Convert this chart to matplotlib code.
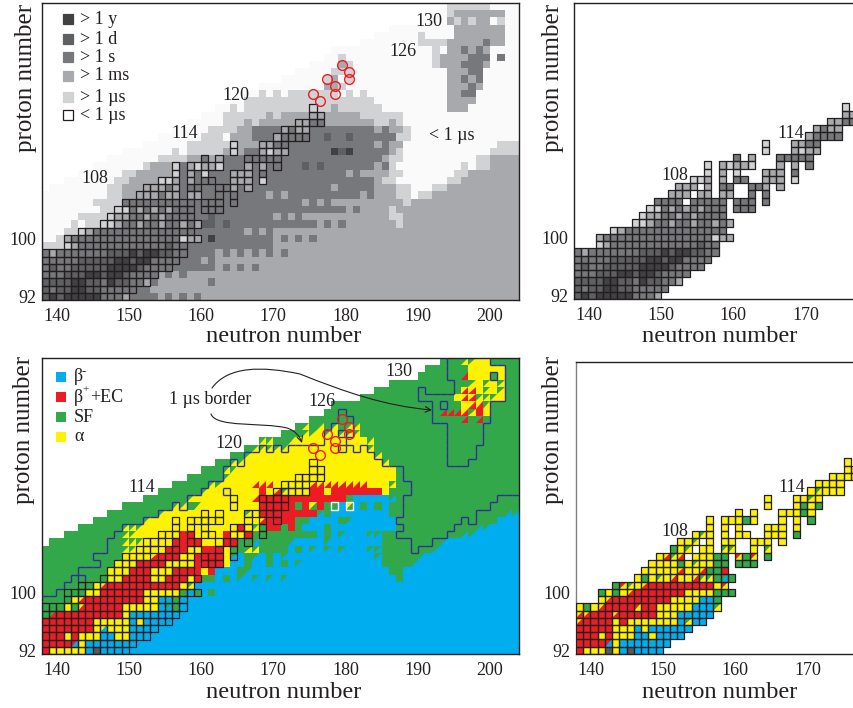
import numpy as np
import matplotlib
matplotlib.use("Agg")
import matplotlib.pyplot as plt
from matplotlib.collections import LineCollection, PatchCollection, PolyCollection
from matplotlib.colors import BoundaryNorm, ListedColormap
from matplotlib.patches import FancyArrowPatch, Rectangle
from matplotlib.path import Path

plt.rcParams['font.family'] = ['Liberation Serif', 'DejaVu Serif']

FIRST_N = 138
FIRST_Z = 92
N_COLS = 66
N_ROWS = 41
W, H = 854, 708
INK = '#231f20'

# first column with any calculated nucleus, for Z = 92 + index (0 = whole row)
row_start = [0] * 15 + [1, 3, 5, 7, 9, 11, 14, 16, 18, 20, 22, 24, 26, 28, 30, 33, 35, 37, 39, 40, 44, 46, 48, 52, 53, 55]

# half-life class runs per row, "column:class", each run lasts until the next one
life_runs = [
    "0:4 16:3 17:4 18:3 19:4 20:3 21:4 22:3",
    "0:4 15:3",
    "0:4 16:3 23:4 24:3",
    "0:4 16:3 17:4 18:3 19:4 20:3",
    "0:4 24:3 25:4 26:3 27:4 28:3 29:4 30:3",
    "0:4 22:3 23:4 24:3",
    "0:4 24:3 25:4 26:3 27:4 28:3 29:4 30:3 31:4 32:3 33:4 34:3",
    "0:2 3:4 32:3",
    "0:1 2:2 3:4 23:6 24:4 32:3 33:4 34:3 35:4 36:3 37:4 38:3",
    "0:1 3:2 5:4 28:3 29:4 30:3 31:4 32:3",
    "0:1 4:2 5:1 6:2 8:4 22:5 24:4 25:5 26:4 38:3 39:4 40:3 41:4 42:3 49:2 50:3",
    "0:1 5:2 9:4 23:5 24:4 32:3 33:4 34:3 35:4 36:3 48:2 50:3",
    "0:1 8:2 10:4 42:3 43:4 44:3 48:2 49:3",
    "0:1 7:2 11:4 36:3 37:4 38:3 39:4 40:3 50:2 51:3",
    "0:1 9:2 11:3 13:4 31:3 32:4 33:3 34:4 44:3 45:4 46:3 49:2 51:1 52:2 54:3",
    "0:1 9:2 11:3 14:4 40:3 41:4 46:3 49:2 51:1 54:2 56:3",
    "0:1 10:2 12:3 16:4 46:3 47:2 49:1 56:2 58:3",
    "0:1 11:2 13:3 18:4 42:3 43:4 44:3 48:2 50:1 57:2 59:3",
    "0:1 14:2 15:3 18:4 36:5 37:4 38:5 39:4 46:3 47:4 48:2 49:1 58:2 59:1 60:2 62:3",
    "0:1 16:2 20:3 24:4 47:3 48:2 50:1 60:2 62:3",
    "0:1 18:2 19:1 20:2 25:3 28:4 40:6 41:5 42:6 43:4 48:3 49:2 50:1 62:2",
    "0:1 20:2 26:3 30:4 46:3 47:4 48:3 50:1 63:2",
    "0:1 22:2 25:1 26:3 29:4 39:5 40:4 42:5 43:4 49:2 51:1",
    "0:1 23:2 27:3 29:4 46:3 47:4 48:3 50:2 51:1",
    "0:1 25:2 28:3 29:2 30:3 46:2 48:3 49:2 50:1",
    "0:1 25:2 31:3 32:2 33:3 44:2 50:1",
    "0:1 26:2 27:1 28:2 40:3 41:2 47:1 56:3 59:1",
    "0:1 28:2 46:1 56:3 60:1",
    "0:1 30:2 31:1 32:2 33:1 34:2 41:1 42:2 43:1 44:2 45:1 56:3 58:4 60:1",
    "0:1 39:3 41:2 42:1 56:3 59:4 60:3 61:1",
    "0:1 39:2 40:3 41:1 42:2 43:1 56:3 58:4 59:3 60:4 61:1",
    "0:1 40:2 43:1 56:3 59:4 61:1",
    "0:1 41:3 42:2 43:1 54:2 55:3 58:4 61:3 62:1",
    "0:1 41:2 42:1 54:2 55:3 59:4 62:1 63:4 64:1",
    "0:1 54:2 55:1 56:3 58:4 59:3 60:4 61:3 62:1",
    "0:1 52:2 56:3 61:4 62:3 64:1",
    "0:1 52:2 53:1 57:3 64:1",
    "0:1 57:3 64:1",
    "0:1 56:3 57:2 58:3 59:2 60:3 62:1 63:2 64:1",
    "0:1 56:2 57:3 64:1",
    "0:1 56:2 62:1",
]

# decay mode runs per row. capitals are one mode, small letters a cell split in two
decay_runs = [
    "0:R 1:Y 6:B 7:K 8:B",
    "0:R 4:h 5:Y 6:B",
    "0:R 3:Y 4:R 5:Y 8:B 10:Y 12:B",
    "0:R 7:Y 8:i 9:Y 12:B",
    "0:R 7:Y 12:B 13:Y 14:B",
    "0:G 1:l 2:R 11:Y 12:B",
    "0:G 3:Y 4:G 5:b 6:R 11:Y 16:B 17:c 18:G 19:B",
    "0:G 4:Y 5:b 6:R 14:Y 16:B 18:G 19:B",
    "0:G 6:Y 8:R 14:Y 19:G 20:B 21:G 22:B 23:G 24:B",
    "0:G 7:Y 8:b 9:R 19:Y 20:a 21:B",
    "0:G 9:Y 11:R 15:Y 17:R 20:Y 21:R 22:G 24:B 25:G 26:B 27:c 28:B 29:c 30:B 31:c 32:B 33:c 34:B 49:G 50:B",
    "0:G 9:Y 12:R 15:Y 18:R 22:Y 23:R 24:B 27:G 28:c 29:B 48:G 50:B",
    "0:G 10:Y 13:R 17:Y 21:R 25:Y 26:B 28:G 29:B 31:G 32:B 33:G 34:B 35:c 36:B 47:G 51:c 52:B",
    "0:G 11:Y 15:b 16:R 19:Y 21:R 25:Y 26:c 27:B 28:G 29:c 30:B 31:G 32:B 33:c 34:B 46:c 47:G 52:c 53:B",
    "0:G 11:a 13:Y 17:R 20:Y 22:R 25:Y 26:G 28:a 30:G 34:B 35:G 36:B 37:c 38:B 39:c 40:B 41:c 42:B 45:c 47:G 54:c 55:B",
    "0:G 11:a 14:Y 18:R 22:Y 25:R 27:G 29:c 30:G 34:c 35:B 39:c 40:B 47:G 55:c 56:B",
    "0:G 11:a 13:Y 19:R 21:Y 25:R 26:Y 28:R 29:G 38:B 39:G 40:B 41:c 42:B 45:c 47:G 58:c 60:B",
    "0:G 11:a 14:Y 27:R 28:Y 29:a 30:G 31:R 33:G 34:R 35:G 36:B 39:G 40:B 49:G 60:c 62:B",
    "0:G 14:a 15:Y 30:b 31:R 35:G 37:B 41:G 42:c 43:B 49:G 63:B",
    "0:G 16:a 17:Y 28:a 29:Y 30:R 38:c 39:G 40:B 48:G 64:c",
    "0:G 18:a 20:G 21:a 22:Y 30:R 35:G 36:R 37:k 38:R 39:G 41:B 42:k 43:B 44:G 45:B 46:G 47:B 48:G",
    "0:G 20:a 21:Y 29:b 30:R 42:G 43:B 48:c 49:G",
    "0:G 22:a 23:Y 30:R 31:Y 32:b 33:a 34:Y 37:R 39:Y 40:R 47:Y 48:G",
    "0:G 23:a 25:Y 29:b 32:Y 37:b 45:Y 48:a 49:G",
    "0:G 25:a 26:Y 49:G",
    "0:G 25:a 27:Y 49:G",
    "0:G 26:a 28:Y 47:a 48:G",
    "0:G 28:a 29:Y 46:a 47:G",
    "0:G 29:a 34:Y 45:a 46:G",
    "0:G 30:a 32:G 34:a 35:Y 45:a 46:G",
    "0:G 36:a 38:Y 39:a 40:Y 41:a 44:G",
    "0:G 36:a 37:G 38:a 39:G 40:a 41:G 42:a 44:G",
    "0:G 58:s 59:G 60:s 61:G",
    "0:G 55:s 58:b 59:a 60:R 61:Y 62:G",
    "0:G 58:Y 59:b 61:a 62:G",
    "0:G 57:Y 58:b 60:a 63:Y 64:G",
    "0:G 58:b 60:Y 61:a 62:Y 63:a 64:G",
    "0:G 59:a 60:Y 61:a 62:Y 63:a 64:G",
    "0:G 58:s 59:Y 62:G 63:Y 64:G",
    "0:G 59:Y 64:G",
    "0:G 58:a 60:Y 62:G",
]

# nuclei of the table: row index, first column, one character per cell
table_row = [0, 1, 2, 3, 4, 5, 6, 7, 8, 9, 10, 11, 12, 12, 13, 13, 13, 13,
             14, 14, 14, 14, 14, 15, 15, 15, 15, 15, 15, 16, 16, 16, 16, 16,
             17, 17, 17, 17, 17, 18, 18, 18, 18, 18, 19, 19, 19, 20, 20, 21, 21,
             22, 23, 24, 25, 26]
table_col = [0, 0, 0, 0, 0, 0, 0, 3, 3, 5, 8, 9, 10, 22, 11, 16, 22, 26,
             13, 17, 20, 24, 26, 14, 18, 20, 24, 26, 28, 16, 20, 22, 26, 30,
             18, 20, 22, 26, 30, 18, 20, 28, 30, 32, 22, 24, 28, 26, 30, 26, 30,
             32, 33, 35, 37, 37]
table_life = ["565666664443", "5455665544444", "555566554655443", "4445556656654444",
              "454455555666654444", "4444455555665664444", "43444444455565665544",
              "23444444444444544", "3444444444444444233", "2344444444444444",
              "22344344344343", "233443434444", "22434343444", "444",
              "4444", "44444", "444", "4",
              "333", "33", "33", "4", "4", "333", "3", "44", "44", "3", "3",
              "223", "3", "44", "333", "2",
              "2", "3", "2", "333", "4", "2", "32332", "3", "3", "4",
              "4", "3", "44444", "2", "3233", "2", "3344",
              "34444", "3433", "3344", "33", "2"]
table_decay = ["RYYYKYBKBBBB", "RRRRhYBBBBBBB", "RRRYRYYYBBYBBBB", "RRRRRYYYBYBBBBBB",
               "bRRRRYRYYYYYYYBaBB", "bbRRRbRRRRRYYYBBBBB", "YGYbRRRRjRRYYYYYBBBa",
               "YbRRRRRRRRYYYYBBG", "GYGYbRRRRRRRYYYYGGG", "GjaYbRRRRRRRRRYj",
               "YGYaYbYYbaaGcG", "YYYYYbYYbGGR", "YYYYGYaYYGG", "GGG",
               "Ybab", "YYYGG", "jGj", "G",
               "GYa", "YY", "aa", "Y", "a", "YYa", "Y", "YY", "YY", "Y", "Y",
               "YaY", "Y", "YY", "YYY", "G",
               "Y", "Y", "Y", "YYY", "Y", "Y", "YYYGY", "Y", "Y", "G",
               "Y", "Y", "YYYGY", "Y", "YGYG", "Y", "YYaY",
               "YaYYY", "YYYY", "YYYY", "YY", "Y"]

# recent superheavy nuclei marked with circles
circle_n = [179, 180, 180, 177, 178, 178, 175, 176]
circle_z = [124, 123, 122, 122, 121, 120, 120, 119]
# cells with a white outline in the decay chart
white_box_n = [178, 180]
white_box_z = [112, 112]
# lone long-lived cell that the 1 us line does not go round
no_border_n = [201]
no_border_z = [125]

life_colors = ['#ffffff', '#fafafa', '#d1d2d4', '#a7a9ac', '#77787b', '#5f6062', '#414042']
life_legend = ['> 1 y', '> 1 d', '> 1 s', '> 1 ms', '> 1 µs', '< 1 µs']

mode_colors = {'B': '#00aeef', 'R': '#ed1c24', 'G': '#33a84a', 'Y': '#fff200', 'K': '#58595b', 'W': '#ffffff'}
# split cells: upper left colour, lower right colour
split_cells = {'a': 'GY', 'b': 'YR', 'c': 'GB', 'h': 'RB', 'i': 'YB', 'j': 'RY', 'k': 'YG', 'l': 'GR', 's': 'GR'}
mode_order = list(mode_colors)


def px_axes(fig, left, top, right, bottom):
    return fig.add_axes([left / W, 1 - bottom / H, (right - left) / W, (bottom - top) / H])


def ftext(fig, x, y, s, size=13, **kw):
    kw.setdefault('ha', 'center')
    kw.setdefault('va', 'center')
    return fig.text(x / W, 1 - y / H, s, fontsize=size, color=INK, **kw)


def expand(runs):
    rows = []
    for line in runs:
        row = [None] * N_COLS
        tokens = [t.split(':') for t in line.split()]
        for i, (col, code) in enumerate(tokens):
            stop = int(tokens[i + 1][0]) if i + 1 < len(tokens) else N_COLS
            for c in range(int(col), stop):
                row[c] = code
        rows.append(row)
    return rows


def table_cells():
    cells = []
    for r, c, life, decay in zip(table_row, table_col, table_life, table_decay):
        for i in range(len(life)):
            cells.append((r, c + i, life[i], decay[i]))
    return cells


def style_axes(ax, xmax, ymax, left_color=INK):
    ax.set_xlim(FIRST_N, xmax)
    ax.set_ylim(FIRST_Z - 0.5, ymax)
    ax.set_xticks([t for t in range(140, 201, 10) if t < xmax - 3])
    ax.set_yticks([92, 100])
    ax.tick_params(length=0, labelsize=13, colors=INK)
    ax.tick_params(axis='x', pad=6)
    ax.tick_params(axis='y', pad=4)
    for s in ax.spines.values():
        s.set_linewidth(1.0)
        s.set_color(INK)
    ax.spines['left'].set_color(left_color)
    ax.set_axisbelow(False)


def edges():
    return FIRST_N + np.arange(N_COLS + 1), FIRST_Z - 0.5 + np.arange(N_ROWS + 1)


def draw_life(ax, grid):
    x, y = edges()
    cmap = ListedColormap(life_colors)
    norm = BoundaryNorm(np.arange(len(life_colors) + 1) - 0.5, cmap.N)
    ax.pcolormesh(x, y, grid, cmap=cmap, norm=norm, linewidth=0, rasterized=True)


def draw_decay(ax, codes):
    x, y = edges()
    first = np.zeros((N_ROWS, N_COLS))
    lower_tris = {}
    for r in range(N_ROWS):
        for c in range(N_COLS):
            code = codes[r][c]
            if code is None:
                first[r, c] = mode_order.index('W')
            elif code in split_cells:
                first[r, c] = mode_order.index(split_cells[code][0])
                lower_tris.setdefault(split_cells[code][1], []).append((r, c))
            else:
                first[r, c] = mode_order.index(code)
    cmap = ListedColormap([mode_colors[m] for m in mode_order])
    norm = BoundaryNorm(np.arange(len(mode_order) + 1) - 0.5, cmap.N)
    ax.pcolormesh(x, y, first, cmap=cmap, norm=norm, linewidth=0, rasterized=True)
    for mode, cells in lower_tris.items():
        polys = []
        for r, c in cells:
            n, z = FIRST_N + c, FIRST_Z + r
            polys.append([(n, z - 0.5), (n + 1, z - 0.5), (n + 1, z + 0.5)])
        ax.add_collection(PolyCollection(polys, facecolors=mode_colors[mode], edgecolors='none'))


def draw_boxes(ax, cells):
    boxes = [Rectangle((FIRST_N + c, FIRST_Z + r - 0.5), 1, 1) for r, c, _, _ in cells]
    ax.add_collection(PatchCollection(boxes, facecolors='none', edgecolors=INK, linewidths=0.9, zorder=4))


def draw_border(ax, grid):
    # 1 us line runs along every side between class <= 1 and class >= 2
    grid = grid.copy()
    for n, z in zip(no_border_n, no_border_z):
        grid[z - FIRST_Z, n - FIRST_N] = 1
    segs = []
    for r in range(N_ROWS):
        for c in range(N_COLS):
            n, z = FIRST_N + c, FIRST_Z + r - 0.5
            if c + 1 < N_COLS and (grid[r, c] >= 2) != (grid[r, c + 1] >= 2):
                segs.append([(n + 1, z), (n + 1, z + 1)])
            if r + 1 < N_ROWS and (grid[r, c] >= 2) != (grid[r + 1, c] >= 2):
                segs.append([(n, z + 1), (n + 1, z + 1)])
    ax.add_collection(LineCollection(segs, colors='#2e3192', linewidths=1.0, zorder=3))


def draw_circles(ax):
    ax.plot(np.array(circle_n) + 0.5, circle_z, 'o', ms=7, mfc='none', mec='#ed1c24', mew=1.0, zorder=6, clip_on=False)


life_rows = expand(life_runs)
decay_rows = expand(decay_runs)

life_grid = np.array([[int(v) for v in row] for row in life_rows])
for r, start in enumerate(row_start):
    life_grid[r, :start] = 0
    for c in range(start):
        decay_rows[r][c] = None

cells = table_cells()
for r, c, life, _ in cells:
    life_grid[r, c] = int(life)

fig = plt.figure(figsize=(W / 100, H / 100), dpi=100)

# top left, half-lives
ax = px_axes(fig, 42, 3, 519, 300)
draw_life(ax, life_grid)
draw_boxes(ax, cells)
draw_circles(ax)
style_axes(ax, FIRST_N + N_COLS, FIRST_Z + N_ROWS - 0.5)

# bottom left, decay modes
ax = px_axes(fig, 42, 358, 519, 654)
draw_decay(ax, decay_rows)
draw_border(ax, life_grid)
draw_boxes(ax, cells)
white_boxes = [Rectangle((n, z - 0.5), 1, 1) for n, z in zip(white_box_n, white_box_z)]
ax.add_collection(PatchCollection(white_boxes, facecolors='none', edgecolors='white', linewidths=1.0, zorder=5))
draw_circles(ax)
style_axes(ax, FIRST_N + N_COLS, FIRST_Z + N_ROWS - 0.5)
ax_low = ax

# top right, table half-lives only
table_life_grid = np.ma.masked_all((N_ROWS, N_COLS))
for r, c, life, _ in cells:
    table_life_grid[r, c] = int(life)
ax = px_axes(fig, 574, 3, 854, 299)
draw_life(ax, table_life_grid)
draw_boxes(ax, cells)
style_axes(ax, FIRST_N + 280 / 7.23, FIRST_Z - 0.5 + 296 / 7.25)
ax.spines['right'].set_visible(False)

# bottom right, table decay modes only
table_codes = [[None] * N_COLS for _ in range(N_ROWS)]
for r, c, _, decay in cells:
    table_codes[r][c] = decay
ax = px_axes(fig, 576, 362, 854, 654)
draw_decay(ax, table_codes)
draw_boxes(ax, cells)
style_axes(ax, FIRST_N + 278 / 7.23, FIRST_Z - 0.5 + 292 / 7.25, left_color='#808080')
ax.spines['right'].set_visible(False)

# axis titles
for x in (284, 720):
    for y in (337, 692):
        ftext(fig, x, y, 'neutron number', size=17.6)
for x, y in ((26, 78), (553, 78), (24, 430), (553, 430)):
    ftext(fig, x, y, 'proton number', size=18, rotation=90)

# element labels
for x, y, s in ((95, 179, '108'), (185, 133, '114'), (236, 96, '120'), (403, 51, '126'), (429, 21, '130'),
                (452, 135, '< 1 µs'), (791, 133, '114'), (675, 176, '108'),
                (142, 488, '114'), (229, 444, '120'), (322, 401, '126'), (399, 371, '130'),
                (792, 488, '114'), (675, 531, '108'), (210, 400, '1 µs border')):
    ftext(fig, x, y, s)

# half-life legend
key_y = [19, 39, 57, 76, 97, 115]
key_colors = ['#414042', '#5f6062', '#77787b', '#a7a9ac', '#d1d2d4', '#ffffff']
for y, col, label in zip(key_y, key_colors, life_legend):
    edge = INK if label.startswith('<') else col
    fig.add_artist(Rectangle(((63) / W, 1 - (y + 5) / H), 10 / W, 10 / H, facecolor=col, edgecolor=edge,
                             linewidth=0.9, transform=fig.transFigure))
    ftext(fig, 80, y, label, ha='left')

# decay legend
mode_y = [377, 397, 417, 437]
mode_keys = ['B', 'R', 'G', 'Y']
mode_labels = ['β', 'β', 'SF', 'α']
for y, key, label in zip(mode_y, mode_keys, mode_labels):
    fig.add_artist(Rectangle((56 / W, 1 - (y + 5) / H), 10 / W, 10 / H, facecolor=mode_colors[key],
                             edgecolor='none', transform=fig.transFigure))
    ftext(fig, 74, y, label, ha='left')
ftext(fig, 82, 372, '-', size=9, ha='left')
ftext(fig, 82, 390, '+', size=8, ha='left')
ftext(fig, 90, 397, '+EC', ha='left')


def px_to_low(x, y):
    pos = ax_low.transData.inverted().transform((x, H - y))
    return tuple(pos)


# curved arrows from the 1 us border label
upper = [(212, 388), (228, 366), (262, 366), (300, 374), (345, 392), (385, 406), (432, 410)]
lower = [(211, 414), (216, 428), (262, 422), (287, 428), (296, 431), (300, 437), (302, 443)]
for pts in (upper, lower):
    verts = [px_to_low(*p) for p in pts]
    codes = [Path.MOVETO] + [Path.CURVE4] * 6
    ax_low.add_patch(FancyArrowPatch(path=Path(verts, codes), arrowstyle='->,head_length=4,head_width=2',
                                     mutation_scale=1, color=INK, lw=0.8, zorder=7,
                                     transform=ax_low.transData))

fig.savefig('out.png', dpi=100)
